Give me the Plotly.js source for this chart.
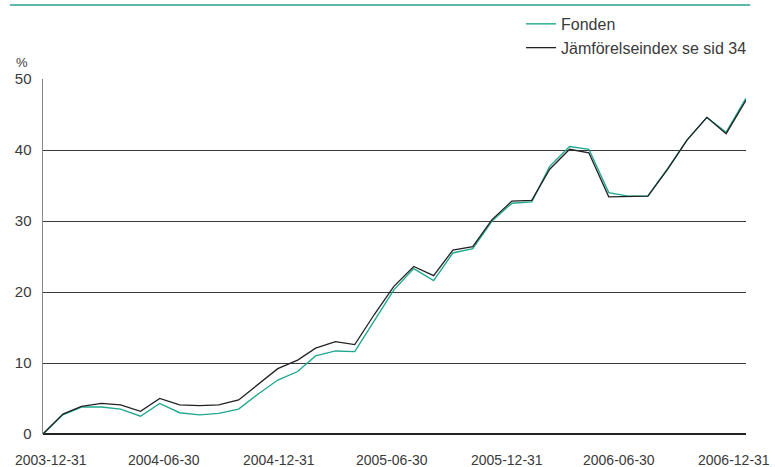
<!DOCTYPE html>
<html>
<head>
<meta charset="utf-8">
<script src="https://cdn.plot.ly/plotly-3.0.1.min.js"></script>
<style>html,body{margin:0;padding:0;background:#fff;}#chart{width:775px;height:467px;}</style>
</head>
<body>
<div id="chart"></div>
<script>
const dates = [
  '2003-12-31','2004-01-31','2004-02-29','2004-03-31','2004-04-30','2004-05-31','2004-06-30',
  '2004-07-31','2004-08-31','2004-09-30','2004-10-31','2004-11-30','2004-12-31',
  '2005-01-31','2005-02-28','2005-03-31','2005-04-30','2005-05-31','2005-06-30',
  '2005-07-31','2005-08-31','2005-09-30','2005-10-31','2005-11-30','2005-12-31',
  '2006-01-31','2006-02-28','2006-03-31','2006-04-30','2006-05-31','2006-06-30',
  '2006-07-31','2006-08-31','2006-09-30','2006-10-31','2006-11-30','2006-12-31'
];
const fonden = [
  0, 2.7, 3.8, 3.8, 3.5, 2.5, 4.3, 3.0, 2.7, 2.9, 3.5, 5.6, 7.6,
  8.8, 11.0, 11.7, 11.6, 16.0, 20.3, 23.3, 21.6, 25.5, 26.1, 30.0, 32.5,
  32.7, 37.7, 40.5, 40.1, 34.0, 33.5, 33.5, 37.4, 41.4, 44.6, 42.5, 47.3
];
const index = [
  0, 2.8, 3.9, 4.3, 4.1, 3.2, 5.0, 4.1, 4.0, 4.1, 4.8, 7.0, 9.2,
  10.4, 12.1, 13.0, 12.6, 16.9, 20.8, 23.6, 22.3, 25.9, 26.4, 30.2, 32.8,
  32.9, 37.3, 40.1, 39.6, 33.4, 33.4, 33.5, 37.3, 41.4, 44.6, 42.3, 47.0
];
const names = ['Fonden', 'Jämförelseindex se sid 34'];
const tickDates = ['2003-12-31','2004-06-30','2004-12-31','2005-06-30','2005-12-31','2006-06-30','2006-12-31'];
const tickLabels = ['2003-12-31','2004-06-30','2004-12-31','2005-06-30','2005-12-31','2006-06-30','2006-12-31'];
const yTicks = [0, 10, 20, 30, 40, 50];

const FONT = 'Liberation Sans, Arial, sans-serif';
const TXT = '#3a3a3a';

const traces = [
  {x: dates, y: fonden, name: names[0], type: 'scatter', mode: 'lines',
   line: {color: '#1fa88f', width: 1.4}, legendgroup: 'a'},
  {x: dates, y: index, name: names[1], type: 'scatter', mode: 'lines',
   line: {color: '#222222', width: 1.3}, legendgroup: 'b'}
];

// x tick labels drawn as annotations so they can sit slightly inward like the original
const n = tickDates.length;
const tickAnn = tickDates.map((d, k) => ({
  text: tickLabels[k], xref: 'x', yref: 'paper', x: d, y: 0,
  xanchor: 'center', yanchor: 'top', yshift: -16,
  xshift: 8 - 20 * k / (n - 1),
  showarrow: false, font: {family: FONT, size: 14, color: TXT}
}));

const layout = {
  width: 775, height: 467,
  margin: {l: 43, r: 29, t: 79, b: 33, autoexpand: false},
  paper_bgcolor: '#fff', plot_bgcolor: '#fff',
  font: {family: FONT, size: 14, color: TXT},
  showlegend: true,
  legend: {x: 0.68, y: 1.203, xanchor: 'left', yanchor: 'top',
           font: {family: FONT, size: 16, color: TXT},
           traceorder: 'grouped', tracegroupgap: 0,
           bgcolor: 'rgba(0,0,0,0)', itemwidth: 30},
  xaxis: {
    type: 'date', range: [dates[0], dates[dates.length - 1]],
    tickvals: tickDates, showticklabels: false,
    showgrid: false, zeroline: false, showline: false, ticks: ''
  },
  yaxis: {
    range: [0, 50], tickvals: yTicks,
    showgrid: true, gridcolor: '#3a3a3a', gridwidth: 1,
    zeroline: true, zerolinecolor: '#222', zerolinewidth: 1.3,
    showline: true, linecolor: '#888', linewidth: 1.5,
    ticks: 'outside', ticklen: 7, tickcolor: 'rgba(0,0,0,0)',
    tickfont: {family: FONT, size: 15, color: TXT}
  },
  shapes: [
    {type: 'line', xref: 'paper', yref: 'paper',
     x0: -0.047, x1: 1.006, y0: 1.2085, y1: 1.2085,
     line: {color: '#2aa08c', width: 1.5}}
  ],
  annotations: [
    {text: '%', xref: 'paper', yref: 'paper', x: -0.03, y: 1.02,
     xanchor: 'center', yanchor: 'bottom', showarrow: false,
     font: {family: FONT, size: 13, color: TXT}}
  ].concat(tickAnn)
};

Plotly.newPlot('chart', traces, layout, {displayModeBar: false, staticPlot: true});
</script>
</body>
</html>
